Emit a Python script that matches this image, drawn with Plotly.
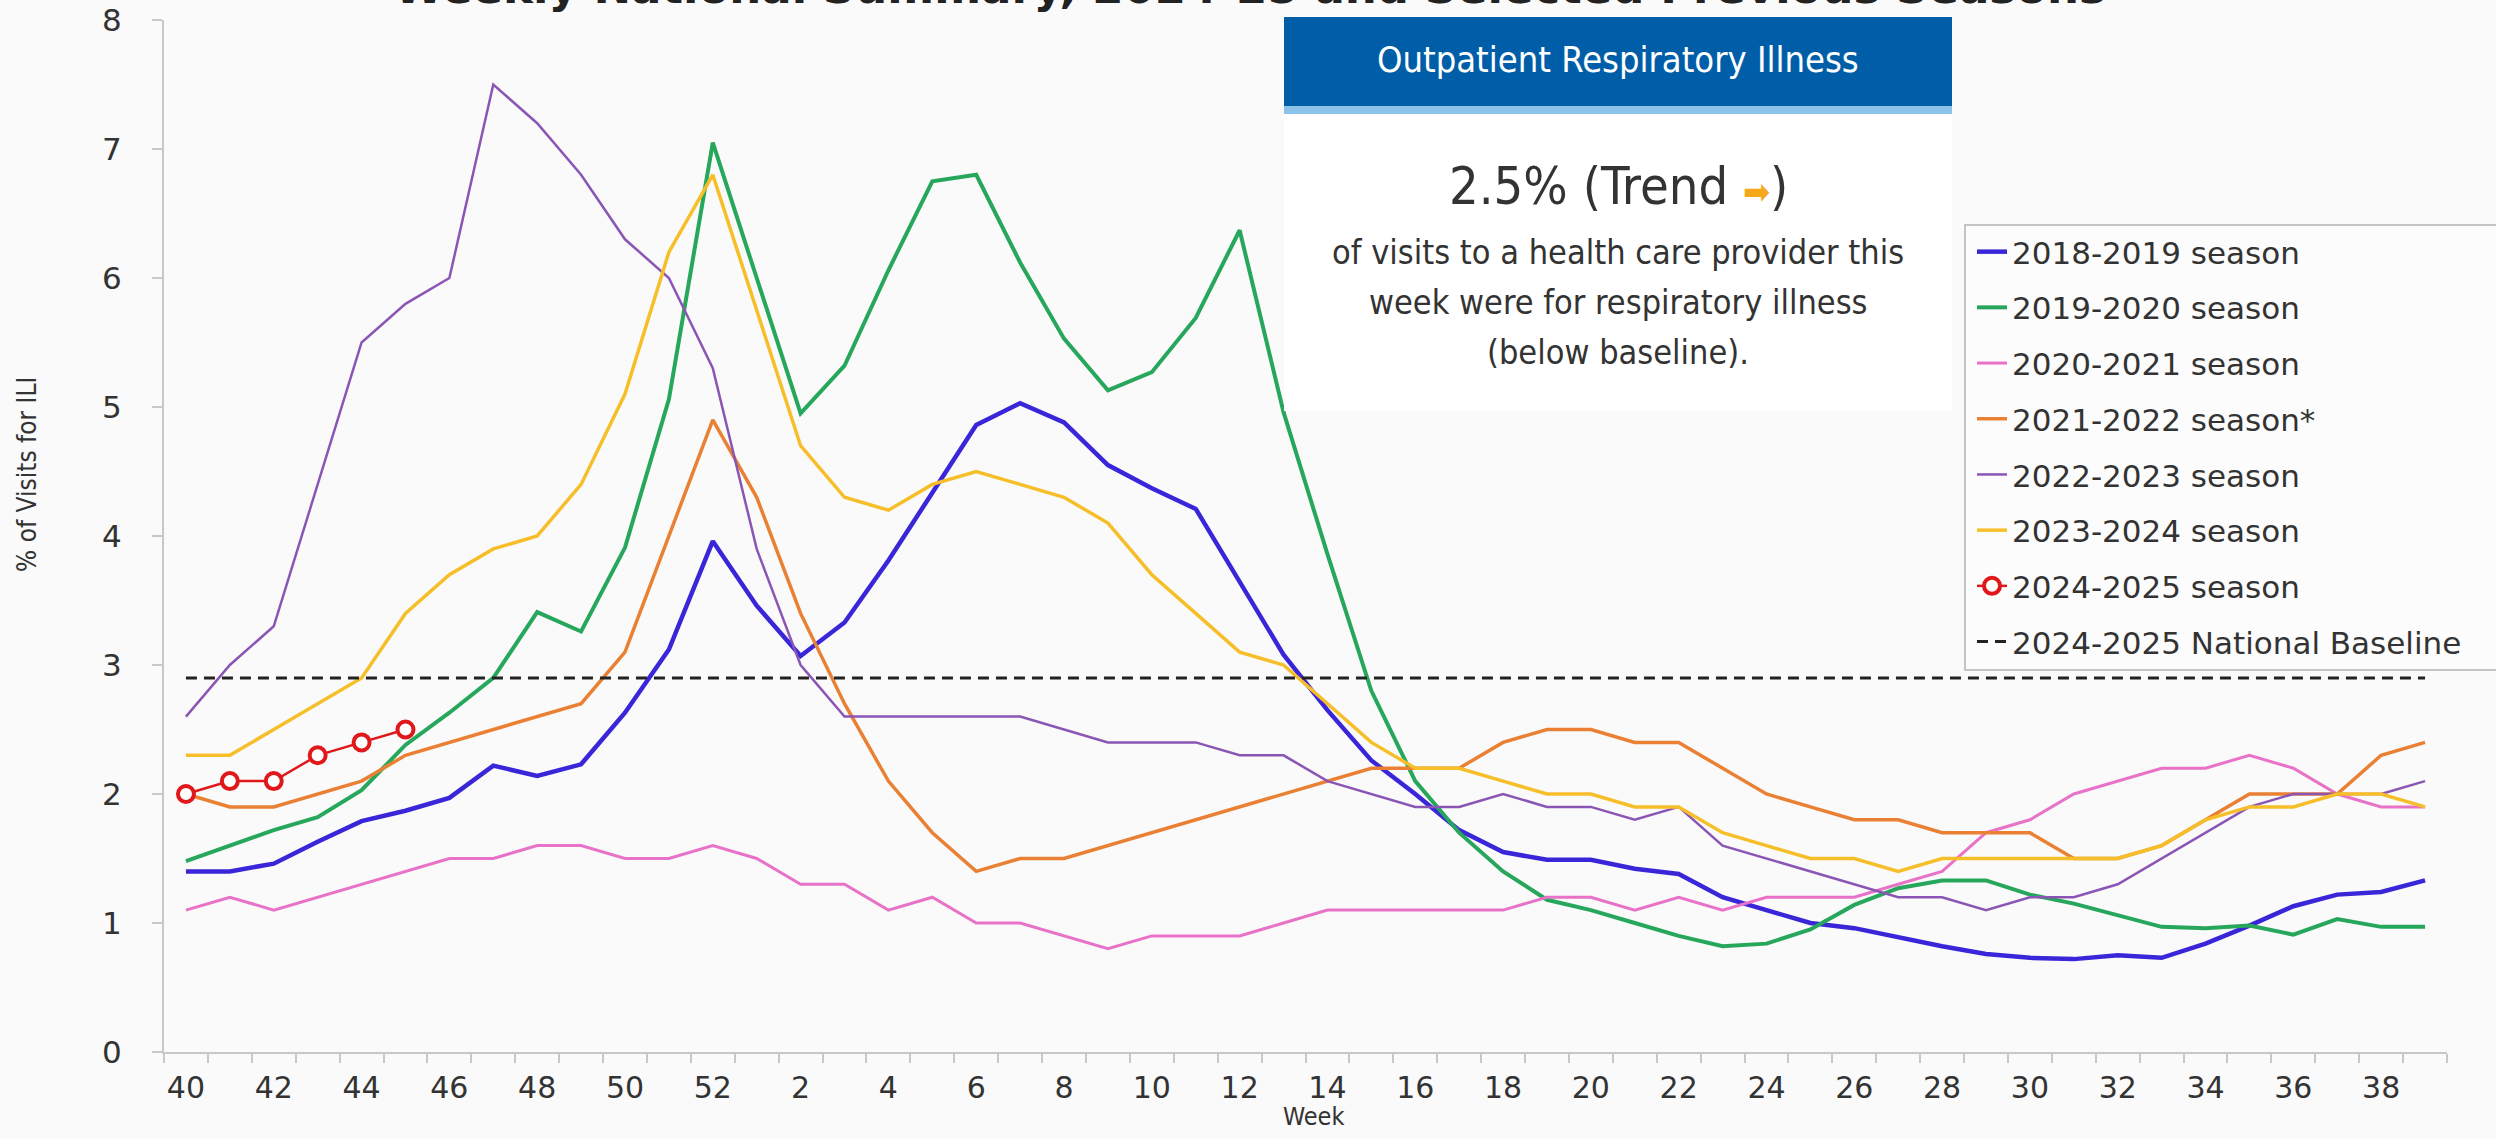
import plotly.graph_objects as go

# ---------------- data ----------------
WEEKS = [40, 41, 42, 43, 44, 45, 46, 47, 48, 49, 50, 51, 52] + list(range(1, 40))
WEEK_LABELS = [str(w) for w in WEEKS]

S2018_2019 = [1.40, 1.40, 1.46, 1.63, 1.79, 1.87, 1.97, 2.22, 2.14, 2.23,
              2.63, 3.12, 3.96, 3.46, 3.07, 3.33, 3.81, 4.33, 4.86, 5.03,
              4.88, 4.55, 4.37, 4.21, 3.65, 3.08, 2.65, 2.26, 2.00, 1.72,
              1.55, 1.49, 1.49, 1.42, 1.38, 1.20, 1.10, 1.00, 0.96, 0.89,
              0.82, 0.76, 0.73, 0.72, 0.75, 0.73, 0.84, 0.98, 1.13, 1.22,
              1.24, 1.33]
S2019_2020 = [1.48, 1.60, 1.72, 1.82, 2.03, 2.38, 2.63, 2.90, 3.41, 3.26,
              3.91, 5.06, 7.05, 6.00, 4.95, 5.32, 6.06, 6.75, 6.80, 6.12,
              5.53, 5.13, 5.27, 5.69, 6.37, 4.96, 3.86, 2.80, 2.10, 1.70,
              1.40, 1.18, 1.10, 1.00, 0.90, 0.82, 0.84, 0.95, 1.14, 1.27,
              1.33, 1.33, 1.22, 1.15, 1.06, 0.97, 0.96, 0.98, 0.91, 1.03,
              0.97, 0.97]
S2020_2021 = [1.1, 1.2, 1.1, 1.2, 1.3, 1.4, 1.5, 1.5, 1.6, 1.6,
              1.5, 1.5, 1.6, 1.5, 1.3, 1.3, 1.1, 1.2, 1.0, 1.0,
              0.9, 0.8, 0.9, 0.9, 0.9, 1.0, 1.1, 1.1, 1.1, 1.1,
              1.1, 1.2, 1.2, 1.1, 1.2, 1.1, 1.2, 1.2, 1.2, 1.3,
              1.4, 1.7, 1.8, 2.0, 2.1, 2.2, 2.2, 2.3, 2.2, 2.0,
              1.9, 1.9]
S2021_2022 = [2.0, 1.9, 1.9, 2.0, 2.1, 2.3, 2.4, 2.5, 2.6, 2.7,
              3.1, 4.0, 4.9, 4.3, 3.4, 2.7, 2.1, 1.7, 1.4, 1.5,
              1.5, None, None, None, None, None, None, 2.2, 2.2, 2.2,
              2.4, 2.5, 2.5, 2.4, 2.4, 2.2, 2.0, 1.9, 1.8, 1.8,
              1.7, 1.7, 1.7, 1.5, 1.5, 1.6, 1.8, 2.0, 2.0, 2.0,
              2.3, 2.4]
S2022_2023 = [2.6, 3.0, 3.3, 4.4, 5.5, 5.8, 6.0, 7.5, 7.2, 6.8,
              6.3, 6.0, 5.3, 3.9, 3.0, 2.6, 2.6, 2.6, 2.6, 2.6,
              2.5, 2.4, 2.4, 2.4, 2.3, 2.3, 2.1, 2.0, 1.9, 1.9,
              2.0, 1.9, 1.9, 1.8, 1.9, 1.6, 1.5, 1.4, 1.3, 1.2,
              1.2, 1.1, 1.2, 1.2, 1.3, 1.5, 1.7, 1.9, 2.0, 2.0,
              2.0, 2.1]
S2023_2024 = [2.3, 2.3, 2.5, 2.7, 2.9, 3.4, 3.7, 3.9, 4.0, 4.4,
              5.1, 6.2, 6.8, 5.75, 4.7, 4.3, 4.2, 4.4, 4.5, 4.4,
              4.3, 4.1, 3.7, 3.4, 3.1, 3.0, 2.7, 2.4, 2.2, 2.2,
              2.1, 2.0, 2.0, 1.9, 1.9, 1.7, 1.6, 1.5, 1.5, 1.4,
              1.5, 1.5, 1.5, 1.5, 1.5, 1.6, 1.8, 1.9, 1.9, 2.0,
              2.0, 1.9]
S2024_2025 = [2.0, 2.1, 2.1, 2.3, 2.4, 2.5]
BASELINE = 2.9

SERIES_NAMES = ["2018-2019 season", "2019-2020 season", "2020-2021 season",
                "2021-2022 season*", "2022-2023 season", "2023-2024 season"]
SERIES_VALUES = [S2018_2019, S2019_2020, S2020_2021, S2021_2022, S2022_2023, S2023_2024]
CURRENT_NAME = "2024-2025 season"
BASELINE_NAME = "2024-2025 National Baseline"

Y_TICKS = [0, 1, 2, 3, 4, 5, 6, 7, 8]

TITLE = "Weekly National Summary, 2024-25 and Selected Previous Seasons"
BOX_HEADER = "Outpatient Respiratory Illness"
BOX_VALUE = "2.5% (Trend "
BOX_LINES = ["of visits to a health care provider this",
             "week were for respiratory illness",
             "(below baseline)."]

# ---------------- styles ----------------
W, H = 2496, 1138
ML, MR, MT, MB = 164, 49, 20, 86
PW, PH = W - ML - MR, H - MT - MB

COLORS = ["#3a26d9", "#27a75b", "#e872c8", "#e98034", "#8a55b4", "#f6bf2a"]
WIDTHS = [4.5, 4, 3, 3.5, 2.5, 3.5]
RED = "#e0181b"
BG = "#fafafa"
AXIS = "#c8c8c8"
TXT = "#333333"
WIDE = "DejaVu Sans, Liberation Sans, Arial, sans-serif"
NARROW = "Liberation Sans Narrow, Arial Narrow, DejaVu Sans Condensed, Liberation Sans, sans-serif"


def px(x):
    return (x - ML) / PW


def py(y):
    return (H - MB - y) / PH


fig = go.Figure()

for name, vals, col, wd in zip(SERIES_NAMES, SERIES_VALUES, COLORS, WIDTHS):
    fig.add_trace(go.Scatter(
        x=WEEK_LABELS, y=vals, mode="lines", name=name, legendgroup=name,
        line=dict(color=col, width=wd), connectgaps=True))

fig.add_trace(go.Scatter(
    x=WEEK_LABELS[:len(S2024_2025)], y=S2024_2025, mode="lines+markers",
    name=CURRENT_NAME, legendgroup=CURRENT_NAME,
    line=dict(color=RED, width=2.5),
    marker=dict(symbol="circle", size=16, color="white",
                line=dict(color=RED, width=4))))

fig.add_trace(go.Scatter(
    x=[WEEK_LABELS[0], WEEK_LABELS[-1]], y=[BASELINE, BASELINE], mode="lines",
    name=BASELINE_NAME, legendgroup=BASELINE_NAME,
    line=dict(color="#222222", width=3, dash="11px,7px")))

shapes = [
    # legend frame
    dict(type="rect", xref="paper", yref="paper", x0=px(1965), x1=px(2520),
         y0=py(670), y1=py(225), fillcolor="#fcfcfc",
         line=dict(color="#c4c4c4", width=2), layer="above"),
    # info box body
    dict(type="rect", xref="paper", yref="paper", x0=px(1284), x1=px(1952),
         y0=py(411), y1=py(112), fillcolor="#ffffff", line=dict(width=0), layer="above"),
    # light blue strip
    dict(type="rect", xref="paper", yref="paper", x0=px(1284), x1=px(1952),
         y0=py(114), y1=py(105), fillcolor="#8bc3eb", line=dict(width=0), layer="above"),
    # header
    dict(type="rect", xref="paper", yref="paper", x0=px(1284), x1=px(1952),
         y0=py(106), y1=py(17), fillcolor="#005ea8", line=dict(width=0), layer="above"),
]

cx = px(1618)
annotations = [
    dict(text="<b>" + TITLE + "</b>", xref="paper", yref="paper", x=px(1250), y=1.0,
         xanchor="center", yanchor="bottom", yshift=4, showarrow=False,
         font=dict(family=WIDE, size=45, color="#222222")),
    dict(text=BOX_HEADER, xref="paper", yref="paper", x=cx, y=py(60),
         xanchor="center", yanchor="middle", showarrow=False,
         font=dict(family=NARROW, size=36, color="white")),
    dict(text=BOX_VALUE + "<span style='color:#f5a81c;font-size:36px'>➡</span>)",
         xref="paper", yref="paper", x=cx, y=py(186),
         xanchor="center", yanchor="middle", showarrow=False,
         font=dict(family=NARROW, size=52, color="#333333")),
    dict(text="% of Visits for ILI", xref="paper", yref="paper", x=px(27), y=py(475),
         xanchor="center", yanchor="middle", textangle=-90, showarrow=False,
         font=dict(family=NARROW, size=26, color=TXT)),
    dict(text="Week", xref="paper", yref="paper", x=px(1314), y=py(1116),
         xanchor="center", yanchor="middle", showarrow=False,
         font=dict(family=NARROW, size=25, color=TXT)),
]
for k, line in enumerate(BOX_LINES):
    annotations.append(dict(text=line, xref="paper", yref="paper", x=cx, y=py(252 + 50 * k),
                            xanchor="center", yanchor="middle", showarrow=False,
                            font=dict(family=NARROW, size=34, color="#333333")))

fig.update_layout(
    width=W, height=H, autosize=False,
    margin=dict(l=ML, r=MR, t=MT, b=MB, pad=0),
    paper_bgcolor=BG, plot_bgcolor=BG,
    showlegend=True,
    legend=dict(x=px(1972), y=py(225), xanchor="left", yanchor="top",
                bgcolor="rgba(0,0,0,0)", borderwidth=0, traceorder="grouped",
                tracegroupgap=12.4, font=dict(family=WIDE, size=31, color=TXT)),
    shapes=shapes, annotations=annotations,
    xaxis=dict(type="category", categoryorder="array", categoryarray=WEEK_LABELS,
               range=[-0.5, len(WEEK_LABELS) - 0.5], automargin=False,
               tickmode="array", tickvals=WEEK_LABELS,
               ticktext=[l if w % 2 == 0 else "" for l, w in zip(WEEK_LABELS, WEEKS)],
               tickangle=0,
               tickson="boundaries", ticks="outside", ticklen=9, tickwidth=2, tickcolor=AXIS,
               showline=True, linecolor=AXIS, linewidth=2, showgrid=False, zeroline=False,
               ticklabelstandoff=8,
               tickfont=dict(family=WIDE, size=30, color=TXT)),
    yaxis=dict(range=[0, 8], tickmode="array", tickvals=Y_TICKS, automargin=False,
               ticks="outside", ticklen=10, tickwidth=2, tickcolor=AXIS,
               showline=True, linecolor=AXIS, linewidth=2, showgrid=False, zeroline=False,
               ticklabelstandoff=24,
               tickfont=dict(family=WIDE, size=31, color=TXT)),
)

fig.write_html("out.html", config={"displayModeBar": False},
               post_script="document.body.style.margin='0px';")
